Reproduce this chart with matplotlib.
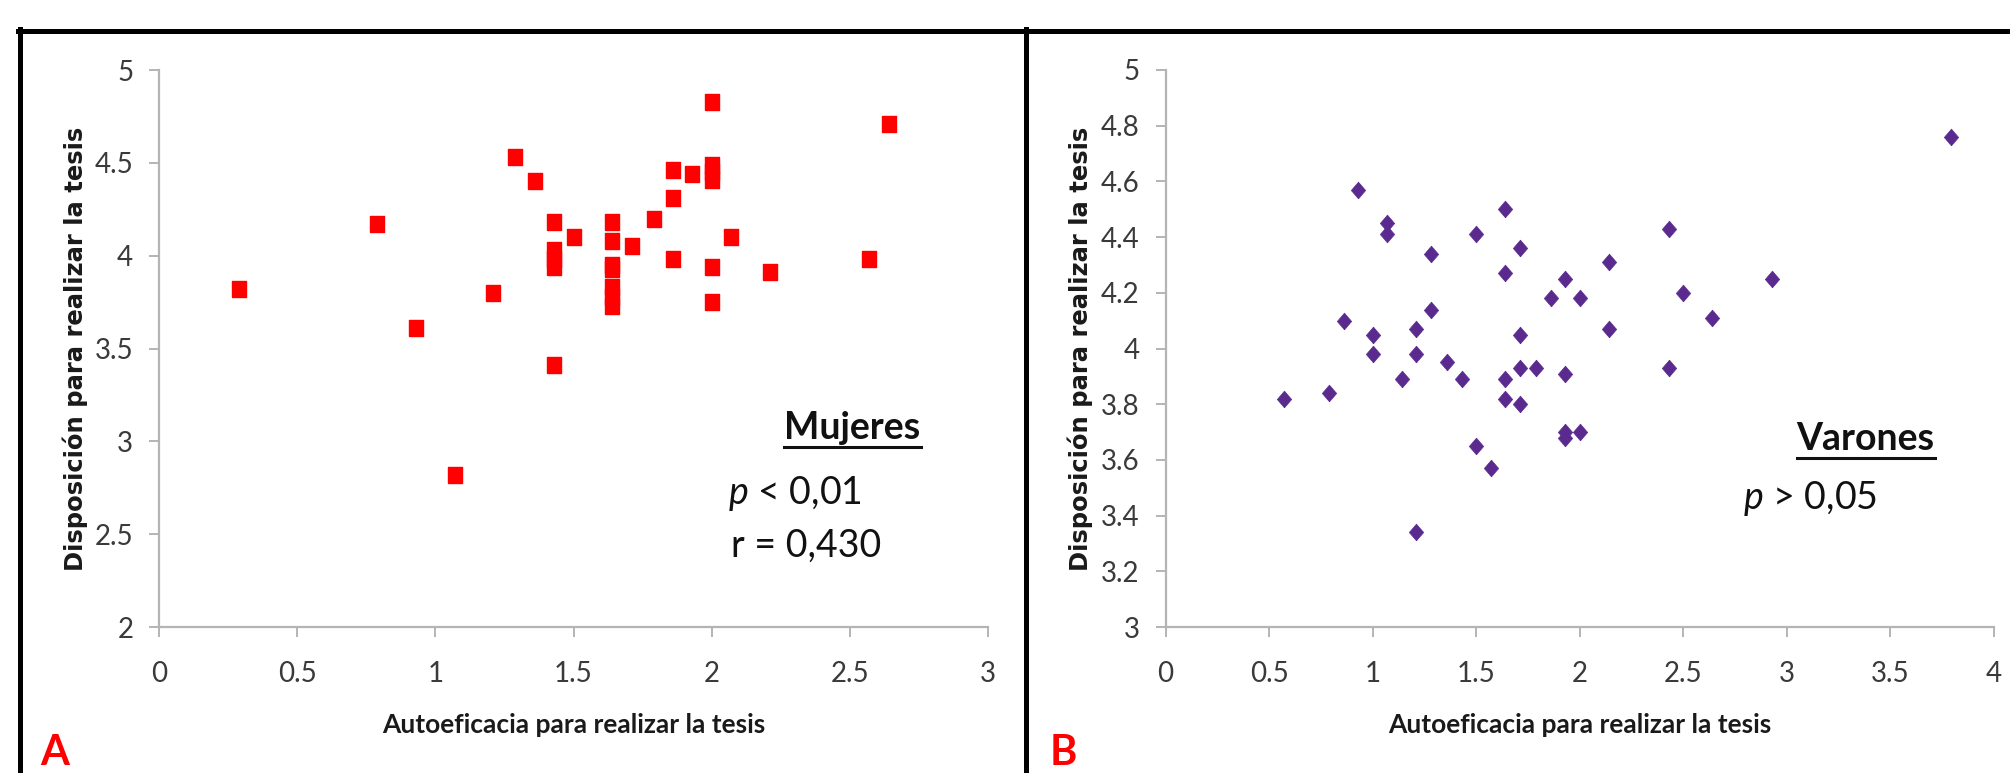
import numpy as np
import matplotlib
matplotlib.use("Agg")
import matplotlib.pyplot as plt
from matplotlib.lines import Line2D
from matplotlib.ticker import FormatStrFormatter, MultipleLocator

plt.rcParams["font.family"] = ["Lato", "DejaVu Sans"]
plt.rcParams["mathtext.fontset"] = "custom"
plt.rcParams["mathtext.it"] = "Lato:italic"
plt.rcParams["mathtext.rm"] = "Lato"

#-------------------------------------------- data
# A : Mujeres
muj_x = [0.29, 0.79, 0.93, 1.07, 1.21, 1.29, 1.36, 1.43, 1.43, 1.43, 1.43, 1.43,
         1.50, 1.64, 1.64, 1.64, 1.64, 1.64, 1.64, 1.64, 1.71, 1.79, 1.86, 1.86,
         1.86, 1.93, 2.00, 2.00, 2.00, 2.00, 2.00, 2.00, 2.07, 2.21, 2.57, 2.64]
muj_y = [3.82, 4.17, 3.61, 2.82, 3.80, 4.53, 4.40, 4.18, 4.03, 3.98, 3.94, 3.41,
         4.10, 4.18, 4.08, 3.95, 3.93, 3.83, 3.78, 3.73, 4.05, 4.20, 4.46, 4.31,
         3.98, 4.44, 4.83, 4.49, 4.45, 4.41, 3.94, 3.75, 4.10, 3.91, 3.98, 4.71]

# B : Varones
var_x = [0.57, 0.79, 0.86, 0.93, 1.00, 1.00, 1.07, 1.07, 1.14, 1.21, 1.21, 1.21,
         1.28, 1.28, 1.36, 1.43, 1.50, 1.50, 1.57, 1.64, 1.64, 1.64, 1.64, 1.71,
         1.71, 1.71, 1.71, 1.79, 1.86, 1.93, 1.93, 1.93, 1.93, 2.00, 2.00, 2.14,
         2.14, 2.43, 2.43, 2.50, 2.64, 2.93, 3.79]
var_y = [3.82, 3.84, 4.10, 4.57, 4.05, 3.98, 4.45, 4.41, 3.89, 4.07, 3.98, 3.34,
         4.34, 4.14, 3.95, 3.89, 4.41, 3.65, 3.57, 4.50, 4.27, 3.89, 3.82, 4.36,
         4.05, 3.93, 3.80, 3.93, 4.18, 4.25, 3.91, 3.70, 3.68, 4.18, 3.70, 4.31,
         4.07, 4.43, 3.93, 4.20, 4.11, 4.25, 4.76]

xlabel = "Autoeficacia para realizar la tesis"
ylabel = "Disposición para realizar la tesis"

#-------------------------------------------- figure
W, H = 2010, 773
fig = plt.figure(figsize=(W / 100, H / 100), dpi=100)

def fx(px):
    return px / W

def fy(py):
    return 1 - py / H

axA = fig.add_axes([fx(159), fy(627), fx(988) - fx(159), fy(70) - fy(627)])
axB = fig.add_axes([fx(1165.5), fy(627), fx(1994) - fx(1165.5), fy(70) - fy(627)])

sq = [(-0.42, -0.5), (0.42, -0.5), (0.42, 0.5), (-0.42, 0.5), (-0.42, -0.5)]
dm = [(0, -0.5), (0.43, 0), (0, 0.5), (-0.43, 0), (0, -0.5)]

axA.plot(muj_x, muj_y, ls="none", marker=sq, ms=11.5, color="#ff0000", mec="#ff0000")
axB.plot(var_x, var_y, ls="none", marker=dm, ms=12, color="#5a2a8e", mec="#5a2a8e", mew=0.5)

grey = "#b4b4b4"
for ax, xmax, ymin, ystep in [(axA, 3, 2, 0.5), (axB, 4, 3, 0.2)]:
    ax.set_xlim(0, xmax)
    ax.set_ylim(ymin, 5)
    ax.xaxis.set_major_locator(MultipleLocator(0.5))
    ax.yaxis.set_major_locator(MultipleLocator(ystep))
    ax.xaxis.set_major_formatter(FormatStrFormatter("%g"))
    ax.yaxis.set_major_formatter(FormatStrFormatter("%g"))
    for s in ["top", "right"]:
        ax.spines[s].set_visible(False)
    for s in ["left", "bottom"]:
        ax.spines[s].set_color(grey)
        ax.spines[s].set_linewidth(1.6)
    ax.tick_params(axis="both", colors=grey, labelcolor="#3a3a3a", width=1.4,
                   length=7.5, labelsize=20)
    ax.tick_params(axis="y", pad=11)
    ax.tick_params(axis="x", pad=17)
    ax.set_xlabel(xlabel, fontsize=19, fontweight="bold", color="#1a1a1a", va="center")
    ax.xaxis.set_label_coords(0.5, -(725 - 627) / 557)
    ax.set_ylabel(ylabel, fontsize=17.5, fontweight="bold", color="#1a1a1a",
                  family="DejaVu Sans", va="center")

axA.yaxis.set_label_coords((75 - 159) / 828.5, 0.5)
axB.yaxis.set_label_coords((1080 - 1165.5) / 828.5, 0.5)

#-------------------------------------------- annotations
tA = axA.text(2.51, 3.07, "Mujeres", fontsize=27, fontweight="bold", ha="center",
              va="center", color="#111111")
axA.text(2.06, 2.72, "$p$ < 0,01", fontsize=27, ha="left", va="center", color="#111111")
axA.text(2.07, 2.44, "r = 0,430", fontsize=27, ha="left", va="center", color="#111111")

tB = axB.text(3.38, 3.676, "Varones", fontsize=27, fontweight="bold", ha="center",
              va="center", color="#111111")
axB.text(2.79, 3.46, "$p$ > 0,05", fontsize=27, ha="left", va="center", color="#111111")

fig.text(fx(55), fy(753), "A", color="#ff0000", fontsize=30, fontweight="bold",
         ha="center", va="center")
fig.text(fx(1063), fy(753), "B", color="#ff0000", fontsize=30, fontweight="bold",
         ha="center", va="center")

# underline under the group titles
fig.canvas.draw()
r = fig.canvas.get_renderer()
for t in [tA, tB]:
    bb = t.get_window_extent(r)
    y = (bb.y0 - 2) / H
    fig.add_artist(Line2D([bb.x0 / W, bb.x1 / W], [y, y], color="#111111", lw=2.2))

# black frame lines
lw = 3.6
fig.add_artist(Line2D([fx(18), 1], [fy(31), fy(31)], color="black", lw=lw))
fig.add_artist(Line2D([fx(20), fx(20)], [fy(29), 0], color="black", lw=lw))
fig.add_artist(Line2D([fx(1026), fx(1026)], [fy(29), 0], color="black", lw=lw))

fig.savefig("out.png", dpi=100, facecolor="white")
